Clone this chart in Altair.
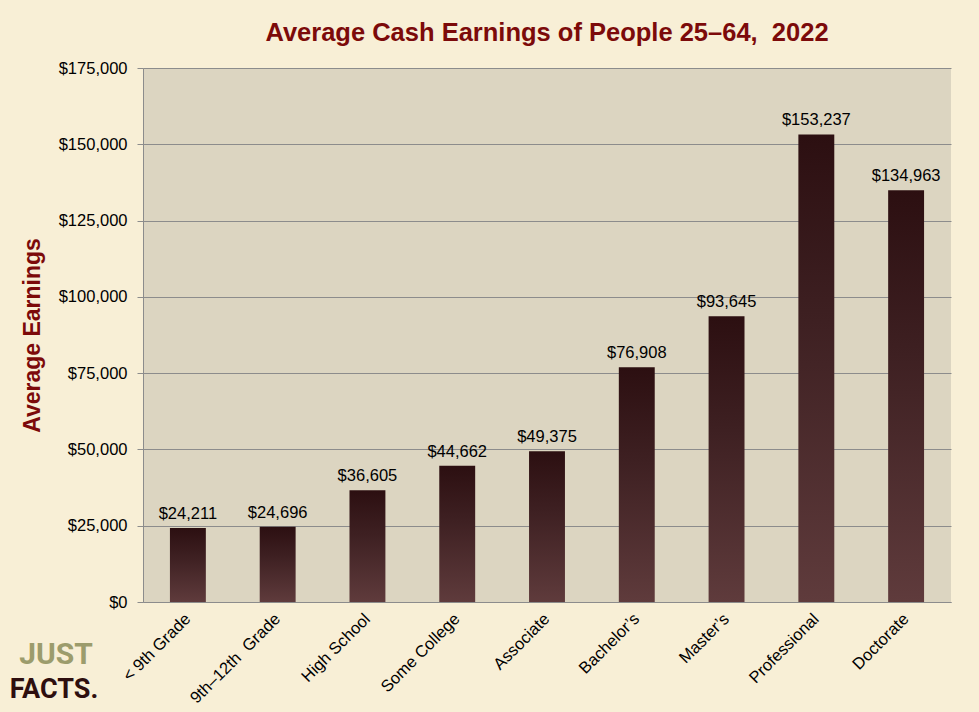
import altair as alt
import pandas as pd

categories = ["< 9th Grade", "9th\u201312th \u00a0Grade", "High School", "Some College", "Associate",
              "Bachelor\u2019s", "Master\u2019s", "Professional", "Doctorate"]
earnings = [24211, 24696, 36605, 44662, 49375, 76908, 93645, 153237, 134963]
y_ticks = [0, 25000, 50000, 75000, 100000, 125000, 150000, 175000]

df = pd.DataFrame({"cat": categories, "val": earnings})

FONT = "Liberation Sans"
RED = "#7c0a0a"

x = alt.X("cat:N", sort=categories, title=None,
          scale=alt.Scale(paddingInner=0.6, paddingOuter=0.3),
          axis=alt.Axis(labelAngle=-45, labelFontSize=16.5, labelFont=FONT, labelColor="black",
                        ticks=False, domain=True, domainColor="#8c8c8c", labelPadding=14,
                        labelAlign="right", labelBaseline="middle"))
y = alt.Y("val:Q", title="Average Earnings",
          scale=alt.Scale(domain=[0, 175000], nice=False),
          axis=alt.Axis(values=y_ticks, format="$,d", labelFontSize=16.5, labelFont=FONT,
                        labelColor="black", tickColor="#8c8c8c", tickSize=6, labelPadding=10,
                        gridColor="#8c8c8c", grid=True, domainColor="#8c8c8c",
                        titleFont=FONT, titleFontSize=23, titleColor=RED,
                        titleFontWeight="bold", titleAngle=-90, titleX=-111, titleY=267,
                        titleAlign="center", titleBaseline="middle"))

grad = alt.Gradient(gradient="linear",
                    stops=[alt.GradientStop(color="#2c0f11", offset=0),
                           alt.GradientStop(color="#3e2022", offset=0.4),
                           alt.GradientStop(color="#5f3b3c", offset=1)],
                    x1=0, x2=0, y1=0, y2=1)

bars = alt.Chart(df).mark_bar(color=grad).encode(x=x, y=y)
labels = alt.Chart(df).mark_text(dy=-14, fontSize=16.5, font=FONT, color="black").encode(
    x=alt.X("cat:N", sort=categories), y="val:Q", text=alt.Text("val:Q", format="$,d"))

logo_font = "Roboto"
just = alt.Chart(pd.DataFrame({"t": ["JUST"]})).mark_text(
    font=logo_font, fontWeight="bold", fontSize=30, color="#9c9c6c",
    align="center", baseline="alphabetic").encode(
    x=alt.value(-87), y=alt.value(596), text="t:N")
facts = alt.Chart(pd.DataFrame({"t": ["FACTS."]})).mark_text(
    font=logo_font, fontWeight="bold", fontSize=27, color="#2e0e0e",
    align="center", baseline="alphabetic").encode(
    x=alt.value(-89), y=alt.value(630), text="t:N")

chart = alt.layer(bars, labels, just, facts).properties(
    width=808, height=534,
    title=alt.Title("Average Cash Earnings of People 25\u201364, \u00a02022", fontSize=25.5, font=FONT,
                    fontWeight="bold", color=RED, anchor="middle", offset=14),
    autosize=alt.AutoSizeParams(type="none"),
    padding={"left": 143, "top": 68, "right": 28, "bottom": 110},
    background="#f8efd6",
).configure_view(fill="#dcd5c1", stroke=None)

chart.save("out.html", embed_options={"renderer": "svg", "actions": False})
